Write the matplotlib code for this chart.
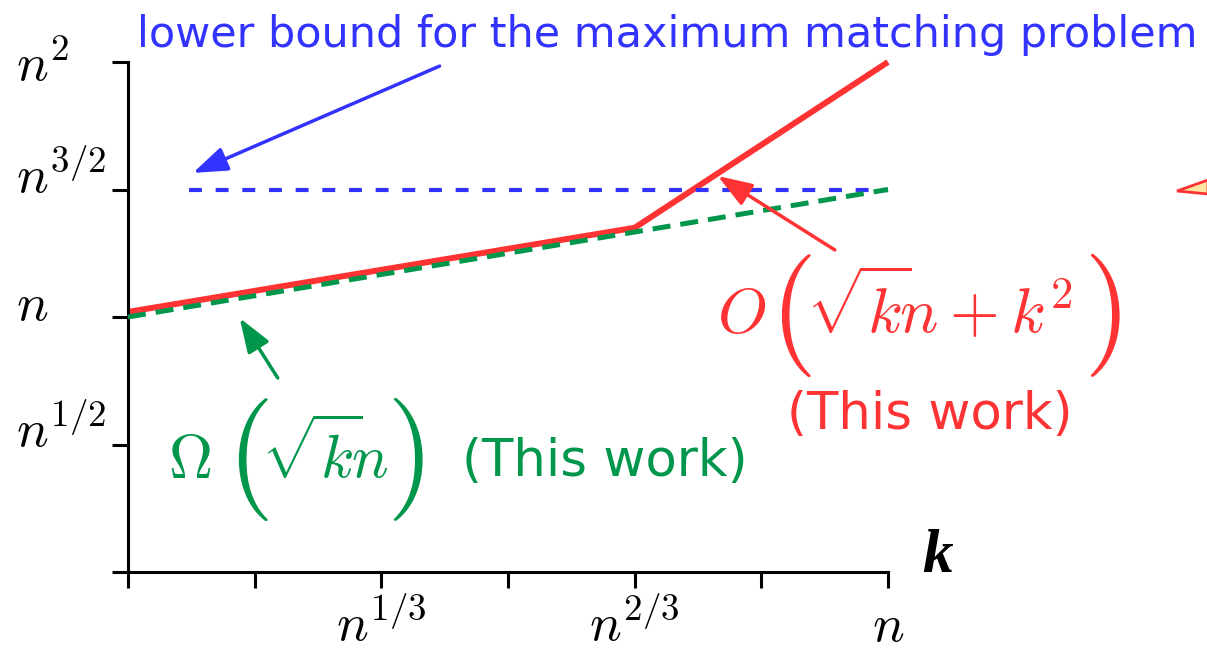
import numpy as np
import matplotlib
matplotlib.use('Agg')
import matplotlib.pyplot as plt
from matplotlib.patches import Polygon
from matplotlib.transforms import offset_copy

plt.rcParams['mathtext.fontset'] = 'cm'
plt.rcParams['font.family'] = 'DejaVu Sans'

# exponents of n (x: k = n^x, y: cost = n^y)
upper_x = [0, 2/3, 1]
upper_y = [1.02, 1.35, 2.0]
lower_x = [0, 1]
lower_y = [1.0, 1.5]
matching_x = [0.08, 1]
matching_y = [1.5, 1.5]

x_ticks = [0, 1/6, 2/6, 3/6, 4/6, 5/6, 1]
x_labels = ['', '', r'$n^{1/3}$', '', r'$n^{2/3}$', '', r'$n$']
y_ticks = [0, 0.5, 1, 1.5, 2]
y_labels = ['', r'$n^{1/2}$', r'$n$', r'$n^{3/2}$', r'$n^2$']

BLUE = '#3333ff'
RED = '#ff3333'
GREEN = '#00964b'

W, H = 1207, 650
fig = plt.figure(figsize=(W / 100, H / 100), dpi=100)
ax = fig.add_axes([128 / W, 1 - 572 / H, 760 / W, 510 / H])


def px(x, y):
    return x / W, 1 - y / H


ax.plot(matching_x, matching_y, color=BLUE, lw=3.0, dashes=(3.1, 3.3), zorder=3)
ax.plot(upper_x, upper_y, color=RED, lw=4.3, solid_capstyle='butt', clip_on=False, zorder=2)
ax.plot(lower_x, lower_y, color=GREEN, lw=3.6, dashes=(3.6, 2.0), clip_on=False, zorder=3)

ax.set_xlim(0, 1)
ax.set_ylim(0, 2)
for s in ['top', 'right']:
    ax.spines[s].set_visible(False)
for s in ['left', 'bottom']:
    ax.spines[s].set_linewidth(2.2)
ax.tick_params(direction='out', length=11.5, width=2.2)
ax.set_xticks(x_ticks)
ax.set_xticklabels(x_labels, fontsize=38)
ax.tick_params(axis='x', pad=38)
for lab in ax.get_xticklabels():
    lab.set_va('baseline')
ax.set_yticks(y_ticks)
ax.set_yticklabels([])

# y labels sit just above their ticks, the top one a bit lower
for yv, lab in zip(y_ticks, y_labels):
    dy = -19 if yv == max(y_ticks) else -3
    tr = offset_copy(ax.get_yaxis_transform(), fig, x=0, y=dy, units='dots')
    ax.text(-0.147, yv, lab, transform=tr, fontsize=38, ha='left', va='baseline')

ax.text(1.045, 0, 'k', transform=ax.transAxes, fontsize=44, ha='left', va='baseline',
        family='Liberation Serif', weight='bold', style='italic')

# annotations
fig.text(*px(667, 35), 'lower bound for the maximum matching problem', color=BLUE,
         fontsize=31, ha='center', va='center')
arrow = '-|>,head_length=0.7,head_width=0.25'
ax.annotate('', xy=(0.0855, 1.565), xytext=(0.41, 1.984),
            arrowprops=dict(arrowstyle=arrow, color=BLUE, lw=2.5, mutation_scale=30,
                            shrinkA=0, shrinkB=0), annotation_clip=False)
ax.annotate('', xy=(0.776, 1.553), xytext=(0.930, 1.263),
            arrowprops=dict(arrowstyle=arrow, color=RED, lw=2.5, mutation_scale=30,
                            shrinkA=0, shrinkB=0), annotation_clip=False)
ax.annotate('', xy=(0.147, 0.996), xytext=(0.197, 0.761),
            arrowprops=dict(arrowstyle=arrow, color=GREEN, lw=2.5, mutation_scale=30,
                            shrinkA=0, shrinkB=0), annotation_clip=False)

# upper bound label
fig.text(*px(717, 333), r'$O$', color=RED, fontsize=46, ha='left', va='baseline')
fig.text(*px(769, 346), r'$($', color=RED, fontsize=88, ha='left', va='baseline')
fig.text(*px(806, 333), r'$\sqrt{k}\!n+k^2$', color=RED, fontsize=46, ha='left', va='baseline')
fig.text(*px(1083, 346), r'$)$', color=RED, fontsize=88, ha='left', va='baseline')
fig.text(*px(930, 415), '(This work)', color=RED, fontsize=37, ha='center', va='center')

# lower bound label
fig.text(*px(168, 478), r'$\Omega$', color=GREEN, fontsize=44, ha='left', va='baseline')
fig.text(*px(226, 490), r'$($', color=GREEN, fontsize=88, ha='left', va='baseline')
fig.text(*px(261, 478), r'$\sqrt{k}\!n$', color=GREEN, fontsize=44, ha='left', va='baseline')
fig.text(*px(386, 490), r'$)$', color=GREEN, fontsize=88, ha='left', va='baseline')
fig.text(*px(605, 462), '(This work)', color=GREEN, fontsize=37, ha='center', va='center')

# arrowhead cut off at the right edge
fig.add_artist(Polygon([px(1177, 191), px(1208, 180), px(1208, 194)], closed=True,
                       transform=fig.transFigure, facecolor='#ffe6a0', edgecolor=RED, lw=2))

fig.savefig('out.png', dpi=100)
